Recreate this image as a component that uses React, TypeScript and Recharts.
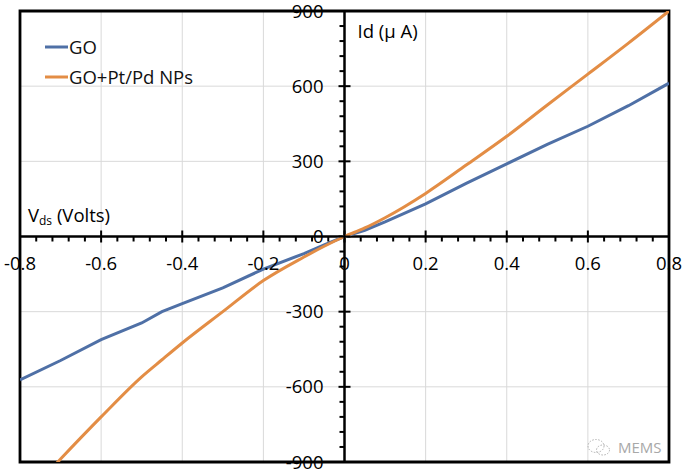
import React from "react";
import {
  LineChart,
  Line,
  XAxis,
  YAxis,
  CartesianGrid,
  ReferenceLine,
  ReferenceDot,
  ReferenceArea,
  Legend,
} from "recharts";

// ---- data ----
const vds = [-0.8, -0.7, -0.6, -0.5, -0.45, -0.4, -0.3, -0.2, -0.1, -0.05, 0, 0.05, 0.1, 0.2, 0.3, 0.4, 0.5, 0.6, 0.7, 0.8];
const goCurrent = [-572, -495, -412, -345, -300, -268, -205, -130, -68, -33, 0, 25, 58, 130, 212, 290, 368, 440, 522, 612];
const ptPdCurrent = [-1062, -888, -720, -560, -492, -425, -300, -176, -82, -39, 0, 34, 75, 172, 285, 400, 525, 648, 772, 900];

const xTicks = [-0.8, -0.6, -0.4, -0.2, 0, 0.2, 0.4, 0.6, 0.8];
const xTickLabels = ["-0.8", "-0.6", "-0.4", "-0.2", "0", "0.2", "0.4", "0.6", "0.8"];
const yTicks = [-900, -600, -300, 0, 300, 600, 900];
const yTickLabels = ["-900", "-600", "-300", "0", "300", "600", "900"];
const xMinor = [
  -0.76, -0.72, -0.68, -0.64, -0.56, -0.52, -0.48, -0.44, -0.36, -0.32, -0.28, -0.24,
  -0.16, -0.12, -0.08, -0.04, 0.04, 0.08, 0.12, 0.16, 0.24, 0.28, 0.32, 0.36,
  0.44, 0.48, 0.52, 0.56, 0.64, 0.68, 0.72, 0.76,
];
const yMinor = [
  -840, -780, -720, -660, -540, -480, -420, -360, -240, -180, -120, -60,
  60, 120, 180, 240, 360, 420, 480, 540, 660, 720, 780, 840,
];

const seriesNames = ["GO", "GO+Pt/Pd NPs"];
const seriesColors = ["#4f70a6", "#e38d45"];

const goData = vds.map((x, i) => ({ x, y: goCurrent[i] }));
const ptData = vds.map((x, i) => ({ x, y: ptPdCurrent[i] }));

const FONT = "'Open Sans', 'Noto Sans', sans-serif";
const FS = 18.5;

const LegendContent = () => (
  <svg width={180} height={60} style={{ display: "block" }}>
    {seriesNames.map((n, i) => (
      <g key={n}>
        <line x1={0} x2={23} y1={i * 30 + 14} y2={i * 30 + 14} stroke={seriesColors[i]} strokeWidth={3} />
        <text x={24} y={i * 30 + 20.5} fontFamily={FONT} fontSize={FS} fill="#111">
          {n}
        </text>
      </g>
    ))}
  </svg>
);

const Watermark = () => (
  <div
    style={{
      position: "absolute",
      left: 585,
      top: 436,
      display: "flex",
      alignItems: "center",
      gap: 6,
      color: "#a8a8a8",
      fontFamily: FONT,
      fontSize: 15,
      pointerEvents: "none",
    }}
  >
    <svg width={27} height={22}>
      <ellipse cx={11} cy={10} rx={8} ry={6.5} fill="none" stroke="#b0b0b0" strokeWidth={1} strokeDasharray="1.5 1.5" />
      <ellipse cx={18} cy={14} rx={6.5} ry={5} fill="none" stroke="#b0b0b0" strokeWidth={1} strokeDasharray="1.5 1.5" />
    </svg>
    <span>MEMS</span>
  </div>
);

export default function App() {
  return (
    <div style={{ position: "absolute", left: 0, top: 0, width: 685, height: 474, background: "#fff" }}>
      <LineChart width={685} height={474} margin={{ top: 11, right: 16, bottom: 12, left: 20 }}>
        <CartesianGrid stroke="#d9d9d9" strokeWidth={1} />
        <XAxis
          type="number"
          dataKey="x"
          domain={[-0.8, 0.8]}
          ticks={xTicks}
          allowDataOverflow
          hide
        />
        <YAxis type="number" domain={[-900, 900]} ticks={yTicks} allowDataOverflow hide />

        {/* axis lines through origin */}
        <ReferenceLine x={0} stroke="#000" strokeWidth={2.5} />
        <ReferenceLine y={0} stroke="#000" strokeWidth={2.5} />

        {/* x ticks + labels */}
        {xTicks.map((v, i) => (
          <ReferenceDot
            key={"xt" + v}
            x={v}
            y={0}
            shape={(p: any) => (
              <g>
                <line x1={p.cx} x2={p.cx} y1={p.cy - 6} y2={p.cy + 6} stroke="#000" strokeWidth={2} />
                <text x={p.cx} y={p.cy + 33} textAnchor="middle" fontFamily={FONT} fontSize={FS} fill="#000">
                  {xTickLabels[i]}
                </text>
              </g>
            )}
          />
        ))}
        {xMinor.map((v) => (
          <ReferenceDot
            key={"xm" + v}
            x={v}
            y={0}
            shape={(p: any) => (
              <line x1={p.cx} x2={p.cx} y1={p.cy} y2={p.cy + 5} stroke="#000" strokeWidth={2} />
            )}
          />
        ))}

        {/* y ticks + labels */}
        {yTicks.map((v, i) => (
          <ReferenceDot
            key={"yt" + v}
            x={0}
            y={v}
            shape={(p: any) => (
              <g>
                <line x1={p.cx - 6} x2={p.cx + 6} y1={p.cy} y2={p.cy} stroke="#000" strokeWidth={2} />
                <text x={p.cx - 21} y={p.cy + 6.5} textAnchor="end" fontFamily={FONT} fontSize={FS} fill="#000">
                  {yTickLabels[i]}
                </text>
              </g>
            )}
          />
        ))}
        {yMinor.map((v) => (
          <ReferenceDot
            key={"ym" + v}
            x={0}
            y={v}
            shape={(p: any) => (
              <line x1={p.cx - 5} x2={p.cx} y1={p.cy} y2={p.cy} stroke="#000" strokeWidth={2} />
            )}
          />
        ))}

        {/* axis titles */}
        <ReferenceDot
          x={-0.8}
          y={0}
          shape={(p: any) => (
            <text x={p.cx + 8} y={p.cy - 15} fontFamily={FONT} fontSize={FS} fill="#000">
              V
              <tspan fontSize={12} dy={3}>ds</tspan>
              <tspan dy={-3}> (Volts)</tspan>
            </text>
          )}
        />
        <ReferenceDot
          x={0}
          y={900}
          shape={(p: any) => (
            <text x={p.cx + 13} y={p.cy + 27} fontFamily={FONT} fontSize={FS} fill="#000">
              Id (μ A)
            </text>
          )}
        />

        <Line
          data={goData}
          dataKey="y"
          name={seriesNames[0]}
          type="linear"
          stroke={seriesColors[0]}
          strokeWidth={3}
          dot={false}
          isAnimationActive={false}
        />
        <Line
          data={ptData}
          dataKey="y"
          name={seriesNames[1]}
          type="monotone"
          stroke={seriesColors[1]}
          strokeWidth={3}
          dot={false}
          isAnimationActive={false}
        />

        {/* plot border */}
        <ReferenceArea x1={-0.8} x2={0.8} y1={-900} y2={900} fill="none" fillOpacity={0} stroke="#000" strokeWidth={2.8} />

        <Legend
          layout="horizontal"
          verticalAlign="middle"
          align="center"
          content={<LegendContent />}
          wrapperStyle={{ position: "absolute", left: 45, top: 33, width: 180, height: 60 }}
        />
      </LineChart>
      <Watermark />
    </div>
  );
}
